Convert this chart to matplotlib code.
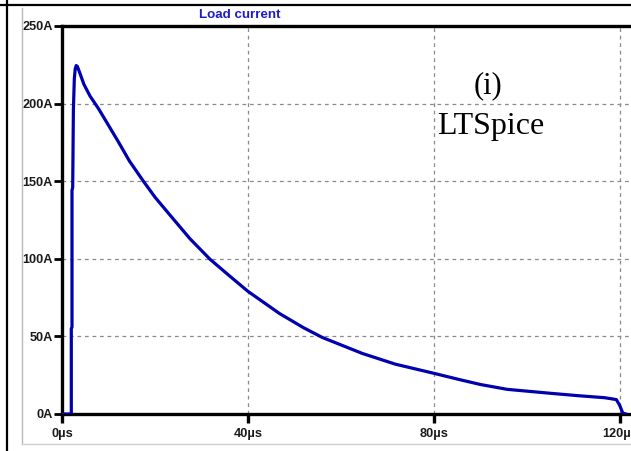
import matplotlib
matplotlib.use("Agg")
import matplotlib.pyplot as plt
from matplotlib.lines import Line2D

# Load current waveform (time in microseconds, current in amps)
t_us = [0, 2.0, 2.0, 2.15, 2.15, 2.3, 2.45, 2.65, 2.85, 3.05, 3.3, 3.8,
        4.7, 6.0, 7.9, 10.0, 12.0, 14.5, 17.5, 20.0, 23.3, 27.5, 31.8,
        36.1, 40.0, 46.8, 52.0, 56.0, 64.6, 71.7, 80.0, 85.3, 90.0, 95.7,
        105.2, 111.0, 116.7, 119.2, 119.9, 120.6, 121.3]
i_amp = [0, 0, 55, 56, 144, 146, 196, 216, 222.5, 224.5, 224, 220,
         212.5, 205, 196.5, 186, 176, 163, 150, 139.7, 127.9, 113.0, 99.8,
         88.8, 79.0, 64.7, 55.5, 49.3, 39.0, 32.1, 26.2, 22.3, 19.0, 15.9,
         13.3, 11.8, 10.5, 9.3, 5.8, 0.6, 0]

x_ticks = [0, 40, 80, 120]
x_labels = ["0µs", "40µs", "80µs", "120µs"]
y_ticks = [0, 50, 100, 150, 200, 250]
y_labels = ["0A", "50A", "100A", "150A", "200A", "250A"]

W, H = 631, 451
fig = plt.figure(figsize=(W / 100, H / 100), dpi=100)
fig.patch.set_facecolor("white")


def px(x0, y0, x1, y1, **kw):
    # line in pixel coordinates measured from the top-left corner
    fig.add_artist(Line2D([x0 / W, x1 / W], [1 - y0 / H, 1 - y1 / H],
                          transform=fig.transFigure, **kw))


# table cell border and panel frame
px(0, 5, W, 5, color="black", lw=1.6)
px(7, 0, 7, H, color="black", lw=1.6)
px(22, 8, 22, 444, color="#b8b8b8", lw=1.0)
px(22, 444, W, 444, color="#d0d0d0", lw=1.0)

ax_left, ax_top, ax_bottom = 62, 26, 414
ax = fig.add_axes([ax_left / W, 1 - ax_bottom / H,
                   (W - ax_left) / W, (ax_bottom - ax_top) / H])
ax.set_xlim(0, (W - ax_left) / 4.65)
ax.set_ylim(0, 250)

ax.plot(t_us, i_amp, color="#0000b0", lw=2.3, solid_joinstyle="round",
        solid_capstyle="round", zorder=3)

for s in ["left", "top", "bottom"]:
    ax.spines[s].set_linewidth(2.4)
    ax.spines[s].set_color("black")
ax.spines["right"].set_visible(False)

ax.set_xticks(x_ticks)
ax.set_xticklabels(x_labels)
ax.set_yticks(y_ticks)
ax.set_yticklabels(y_labels)
ax.tick_params(axis="y", direction="out", length=6, width=2, pad=0.5,
               labelsize=9.2, labelcolor="#1a1a1a")
ax.tick_params(axis="x", direction="out", length=6.5, width=2.4, pad=3.5,
               labelsize=9.2, labelcolor="#1a1a1a")
for lab in ax.get_xticklabels() + ax.get_yticklabels():
    lab.set_fontfamily("Liberation Sans")
    lab.set_fontweight("bold")

ax.grid(True, color="#8a8a8a", lw=0.9, linestyle=(0, (3, 3)))
ax.set_axisbelow(True)

fig.text(240 / W, 1 - 15 / H, "Load current", color="#1c1cc8",
         fontsize=9.6, fontweight="bold", family="Liberation Sans",
         ha="center", va="center")

fig.text(488 / W, 1 - 86 / H, "(i)", fontsize=22, family="Liberation Serif",
         ha="center", va="center", color="black")
fig.text(491 / W, 1 - 134 / H, "LTSpice", fontsize=23, family="Liberation Serif",
         ha="center", va="baseline", color="black")

fig.savefig("out.png", dpi=100)
